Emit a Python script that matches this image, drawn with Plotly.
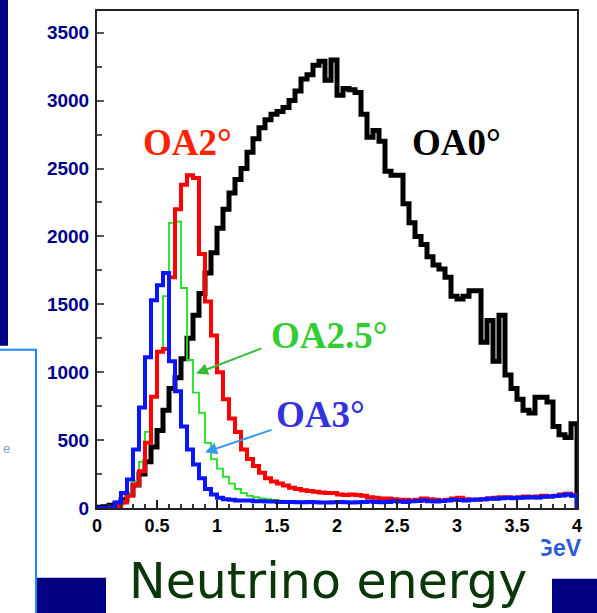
import plotly.graph_objects as go

# ---------------- data ----------------
BIN_WIDTH = 0.05
N_BINS = 80
bin_edges = [round(i * BIN_WIDTH, 2) for i in range(N_BINS + 1)]

oa0_flux = [5, 10, 20, 35, 60, 100, 170, 250, 340, 450,
            570, 720, 880, 960, 1100, 1250, 1420, 1580, 1730, 1880,
            2060, 2200, 2320, 2420, 2500, 2620, 2720, 2800, 2860, 2900,
            2920, 2950, 3000, 3070, 3160, 3190, 3260, 3290, 3150, 3300,
            3040, 3090, 3080, 3060, 2900, 2730, 2780, 2700, 2480, 2450,
            2450, 2240, 2100, 2000, 1940, 1850, 1790, 1760, 1700, 1560,
            1540, 1560, 1600, 1600, 1220, 1380, 1080, 1420, 980, 880,
            800, 720, 700, 815, 815, 780, 600, 540, 520, 620]

oa2_flux = [0, 0, 5, 15, 40, 90, 170, 270, 480, 820,
            1150, 1170, 1700, 2200, 2380, 2450, 2430, 1870, 1520, 1270,
            1000, 800, 660, 560, 430, 360, 310, 260, 220, 195,
            180, 165, 150, 140, 130, 125, 120, 115, 110, 110,
            100, 95, 100, 95, 90, 80, 75, 70, 70, 65,
            60, 60, 55, 60, 70, 65, 60, 55, 60, 70,
            75, 65, 60, 60, 65, 70, 75, 80, 80, 75,
            80, 85, 80, 85, 90, 85, 90, 100, 105, 95]

oa25_flux = [0, 0, 5, 15, 50, 110, 200, 340, 560, 820,
             1150, 1560, 2100, 2110, 1620, 1090, 850, 700, 480, 360,
             290, 230, 180, 140, 110, 90, 80, 70, 65, 60,
             55, 52, 50, 48, 45, 45, 42, 40, 40, 40,
             42, 40, 38, 40, 42, 45, 42, 40, 42, 45,
             45, 42, 45, 48, 50, 48, 45, 48, 50, 55,
             52, 50, 55, 58, 60, 62, 60, 65, 68, 65,
             70, 72, 72, 70, 75, 78, 80, 85, 90, 82]

oa3_flux = [0, 0, 10, 40, 110, 210, 430, 740, 1110, 1530,
            1640, 1730, 1080, 860, 600, 430, 320, 220, 140, 100,
            75, 65, 60, 55, 55, 55, 50, 50, 48, 48,
            45, 45, 45, 42, 42, 45, 42, 40, 40, 42,
            45, 42, 40, 42, 45, 48, 45, 42, 45, 50,
            48, 45, 50, 52, 55, 50, 48, 52, 55, 60,
            58, 55, 60, 62, 65, 70, 68, 72, 75, 72,
            75, 78, 80, 78, 82, 85, 88, 92, 100, 90]

x_tick_vals = [0, 0.5, 1, 1.5, 2, 2.5, 3, 3.5, 4]
x_tick_text = ["0", "0.5", "1", "1.5", "2", "2.5", "3", "3.5", "4"]
y_tick_vals = [0, 500, 1000, 1500, 2000, 2500, 3000, 3500]
y_tick_text = ["0", "500", "1000", "1500", "2000", "2500", "3000", "3500"]

X_RANGE = [0, 4]
Y_RANGE = [0, 3660]

# ---------------- figure ----------------
W, H = 597, 613
ML, MR, MT, MB = 97, 20, 9, 105
PW = W - ML - MR
PH = H - MT - MB


def px(x):
    return (x - ML) / PW


def py(y):
    return (H - MB - y) / PH


def step_xy(values):
    xs = list(bin_edges[:-1]) + [bin_edges[-1], bin_edges[-1]]
    ys = list(values) + [values[-1], 0]
    return xs, ys


fig = go.Figure()
series = [
    ("OA0°", oa0_flux, "#000000", 5),
    ("OA2.5°", oa25_flux, "#1fe01f", 1.8),
    ("OA2°", oa2_flux, "#ff0000", 4),
    ("OA3°", oa3_flux, "#0a14ff", 4),
]
for name, vals, col, w in series:
    xs, ys = step_xy(vals)
    fig.add_trace(go.Scatter(x=xs, y=ys, mode="lines", name=name,
                             line=dict(color=col, width=w, shape="hv"),
                             showlegend=False, hoverinfo="skip"))

NAVY = "#000088"
fig.update_layout(
    width=W, height=H,
    margin=dict(l=ML, r=MR, t=MT, b=MB, pad=0),
    paper_bgcolor="white", plot_bgcolor="white",
    xaxis=dict(range=X_RANGE, showline=True, linecolor="#222222", linewidth=2,
               mirror=True, ticks="inside", ticklen=8, tickwidth=1.5,
               tickcolor="#222222", tickvals=x_tick_vals, ticktext=x_tick_text,
               tickfont=dict(family="Liberation Sans", size=18, color="black",
                             weight="bold"),
               showgrid=False, zeroline=False,
               minor=dict(ticks="inside", ticklen=4, dtick=0.1,
                          tickcolor="#333333", showgrid=False)),
    yaxis=dict(range=Y_RANGE, showline=True, linecolor="#222222", linewidth=2,
               mirror=True, ticks="inside", ticklen=7, tickwidth=1.5,
               tickcolor="#555555", tickvals=y_tick_vals, ticktext=y_tick_text,
               tickfont=dict(family="Liberation Sans", size=19, color=NAVY,
                             weight="bold"),
               ticklabelstandoff=2,
               showgrid=False, zeroline=False,
               minor=dict(ticks="inside", ticklen=5, dtick=250,
                          tickcolor="#555555", showgrid=False)),
)

shapes = [
    # left navy vertical bar
    dict(type="rect", xref="paper", yref="paper", x0=px(-5), x1=px(8),
         y0=py(345), y1=py(-5), fillcolor="#000080", line=dict(width=0),
         layer="above"),
    # white box with blue border (lower left)
    dict(type="rect", xref="paper", yref="paper", x0=px(-10), x1=px(36),
         y0=py(625), y1=py(349), fillcolor="white",
         line=dict(color="#1f86ff", width=2), layer="above"),
    # bottom navy rectangles
    dict(type="rect", xref="paper", yref="paper", x0=px(37), x1=px(106),
         y0=py(625), y1=py(578), fillcolor="#000080", line=dict(width=0),
         layer="above"),
    dict(type="rect", xref="paper", yref="paper", x0=px(552), x1=px(605),
         y0=py(625), y1=py(579), fillcolor="#000080", line=dict(width=0),
         layer="above"),
]
fig.update_layout(shapes=shapes)

serif = "Liberation Serif"
ann = [
    dict(x=px(187), y=py(141), text="OA2°", font=dict(family=serif, size=37,
         color="#ff2200", weight="bold")),
    dict(x=px(456), y=py(141), text="OA0°", font=dict(family=serif, size=37,
         color="#000000", weight="bold")),
    dict(x=px(329), y=py(335), text="OA2.5°", font=dict(family=serif, size=37,
         color="#33cc33", weight="bold")),
    dict(x=px(320), y=py(414), text="OA3°", font=dict(family=serif, size=37,
         color="#3333dd", weight="bold")),
    dict(x=px(584), y=py(548), text="GeV", xanchor="right",
         font=dict(family="Liberation Sans", size=23, color="#2a5bd7",
                   weight="bold")),
    dict(x=px(542), y=py(548), text=" ", xanchor="right", width=26, height=26,
         bgcolor="white"),
    dict(x=px(328), y=py(582), text="Neutrino energy",
         font=dict(family="DejaVu Sans", size=49, color="#0a360a")),
    dict(x=px(6), y=py(448), text="e",
         font=dict(family="Liberation Sans", size=13, color="#7f9fd5")),
]
annotations = []
for a in ann:
    d = dict(xref="paper", yref="paper", showarrow=False,
             xanchor=a.pop("xanchor", "center"), yanchor="middle")
    d.update(a)
    annotations.append(d)

# arrows (head at first point, tail at second)
annotations.append(dict(xref="x", yref="y", axref="x", ayref="y",
                        x=0.825, y=990, ax=1.383, ay=1180, text="",
                        showarrow=True, arrowhead=2, arrowsize=1.2,
                        arrowwidth=2, arrowcolor="#33bb33"))
annotations.append(dict(xref="x", yref="y", axref="x", ayref="y",
                        x=0.90, y=410, ax=1.467, ay=579, text="",
                        showarrow=True, arrowhead=2, arrowsize=1.2,
                        arrowwidth=2, arrowcolor="#3399ee"))
fig.update_layout(annotations=annotations)

fig.write_html("out.html",
               config={"displayModeBar": False},
               post_script="document.body.style.margin='0px';"
                           "document.body.style.overflow='hidden';")
